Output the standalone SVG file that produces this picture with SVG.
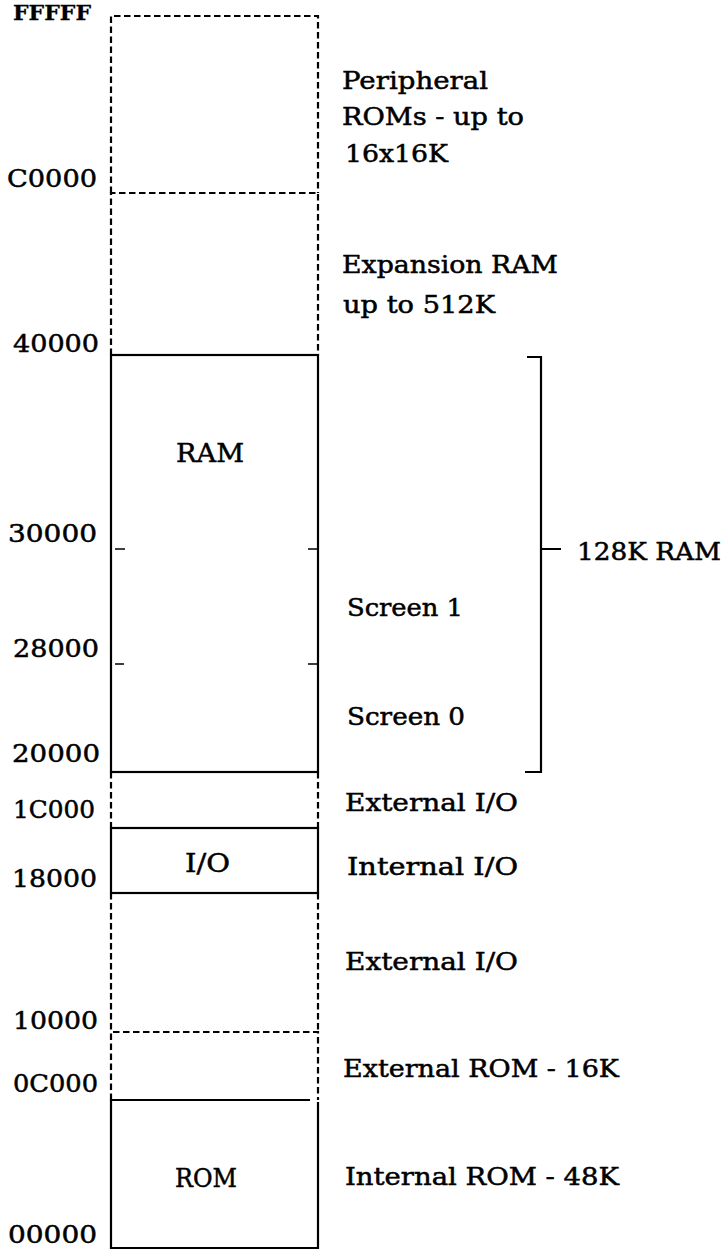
<svg xmlns="http://www.w3.org/2000/svg" width="726" height="1250" viewBox="0 0 726 1250">
<style>
text{font-family:"DejaVu Serif","Liberation Serif",serif;font-size:24px;fill:#000;stroke:#000;stroke-width:0.5}
.addr{font-size:25px}
.box{font-size:26px}
.bold{font-size:21px;font-weight:bold;stroke-width:0.3}
.solid{fill:none;stroke:#000;stroke-width:2.2}
.dash{fill:none;stroke:#000;stroke-width:2.2;stroke-dasharray:6.5 3.5}
.thin{fill:none;stroke:#000;stroke-width:1.6}
</style>
<rect width="726" height="1250" fill="#fff"/>
<g id="addresses">
<text class="bold" x="13" y="20" textLength="78" lengthAdjust="spacingAndGlyphs">FFFFF</text>
<text class="addr" x="7" y="187" textLength="90" lengthAdjust="spacingAndGlyphs">C0000</text>
<text class="addr" x="13" y="352" textLength="86" lengthAdjust="spacingAndGlyphs">40000</text>
<text class="addr" x="8" y="542" textLength="89" lengthAdjust="spacingAndGlyphs">30000</text>
<text class="addr" x="13" y="657" textLength="86" lengthAdjust="spacingAndGlyphs">28000</text>
<text class="addr" x="12" y="762" textLength="88" lengthAdjust="spacingAndGlyphs">20000</text>
<text class="addr" x="13" y="818" textLength="82" lengthAdjust="spacingAndGlyphs">1C000</text>
<text class="addr" x="12" y="887" textLength="85" lengthAdjust="spacingAndGlyphs">18000</text>
<text class="addr" x="13" y="1029" textLength="85" lengthAdjust="spacingAndGlyphs">10000</text>
<text class="addr" x="13" y="1092" textLength="85" lengthAdjust="spacingAndGlyphs">0C000</text>
<text class="addr" x="8" y="1243" textLength="89" lengthAdjust="spacingAndGlyphs">00000</text>
</g>
<g id="peripheral-roms">
<path class="dash" d="M111 193 V16 H318 V193"/>
<text x="342" y="89" textLength="146" lengthAdjust="spacingAndGlyphs">Peripheral</text>
<text x="342" y="125" textLength="182" lengthAdjust="spacingAndGlyphs">ROMs - up to</text>
<text x="345" y="162" textLength="103" lengthAdjust="spacingAndGlyphs">16x16K</text>
</g>
<g id="expansion-ram">
<path class="dash" d="M111 355 V193 H318 V355"/>
<text x="342" y="273" textLength="216" lengthAdjust="spacingAndGlyphs">Expansion RAM</text>
<text x="343" y="313" textLength="152" lengthAdjust="spacingAndGlyphs">up to 512K</text>
</g>
<g id="ram">
<rect class="solid" x="111" y="355" width="207" height="417"/>
<path class="thin" d="M115 549 H125 M308 549 H318 M115 664 H124 M308 664 H318"/>
<text class="box" x="176" y="462" textLength="68" lengthAdjust="spacingAndGlyphs">RAM</text>
<text x="347" y="616" textLength="116" lengthAdjust="spacingAndGlyphs">Screen 1</text>
<text x="347" y="725" textLength="118" lengthAdjust="spacingAndGlyphs">Screen 0</text>
</g>
<g id="external-io-upper">
<path class="dash" d="M111 772 V828 M318 772 V828"/>
<text x="345" y="811" textLength="173" lengthAdjust="spacingAndGlyphs">External I/O</text>
</g>
<g id="internal-io">
<rect class="solid" x="111" y="828" width="207" height="65"/>
<text class="box" x="185" y="872" textLength="45" lengthAdjust="spacingAndGlyphs">I/O</text>
<text x="347" y="875" textLength="171" lengthAdjust="spacingAndGlyphs">Internal I/O</text>
</g>
<g id="external-io-lower">
<path class="dash" d="M111 893 V1032 M318 893 V1032"/>
<text x="345" y="970" textLength="173" lengthAdjust="spacingAndGlyphs">External I/O</text>
</g>
<g id="external-rom">
<path class="dash" d="M111 1100 V1032 H318 V1100"/>
<text x="343" y="1077" textLength="276" lengthAdjust="spacingAndGlyphs">External ROM - 16K</text>
</g>
<g id="rom">
<path class="solid" d="M310 1100 H111 V1248 H318 V1102"/>
<text class="box" x="175" y="1187" textLength="62" lengthAdjust="spacingAndGlyphs">ROM</text>
<text x="345" y="1185" textLength="274" lengthAdjust="spacingAndGlyphs">Internal ROM - 48K</text>
</g>
<g id="connectors">
<path class="solid" d="M527 357 H541 V772 H525 M541 549 H561"/>
<text x="577" y="560" textLength="144" lengthAdjust="spacingAndGlyphs">128K RAM</text>
</g>
</svg>
